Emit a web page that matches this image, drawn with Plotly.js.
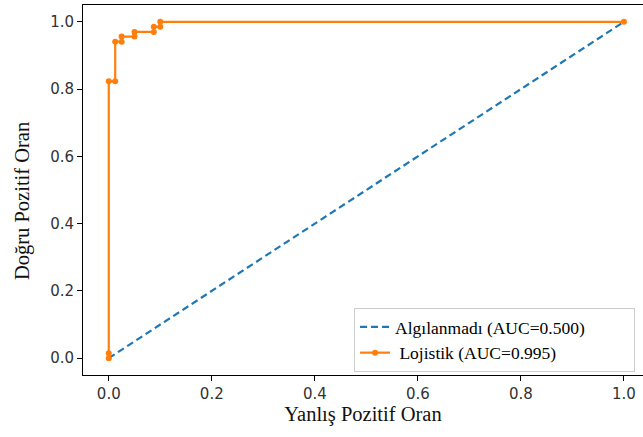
<!DOCTYPE html>
<html>
<head>
<meta charset="utf-8">
<script src="https://cdn.plot.ly/plotly-3.0.1.min.js"></script>
<style>html,body{margin:0;padding:0;background:#fff;}#chart{width:643px;height:437px;}</style>
</head>
<body>
<div id="chart"></div>
<script>
// Baseline (no-skill) ROC
const baseFpr = [0, 1];
const baseTpr = [0, 1];
const baseName = "Algılanmadı (AUC=0.500)\u00a0\u00a0\u00a0\u00a0\u00a0\u00a0\u00a0\u00a0\u00a0\u00a0";

// Logistic regression ROC
const logFpr = [0, 0, 0, 0.0125, 0.0125, 0.025, 0.025, 0.05, 0.05, 0.0875, 0.0875, 0.1, 0.1, 1];
const logTpr = [0, 0.015, 0.823, 0.823, 0.941, 0.941, 0.956, 0.956, 0.97, 0.97, 0.985, 0.985, 1, 1];
const logName = "\u00a0Lojistik (AUC=0.995)";

const xTitle = "Yanlış Pozitif Oran";
const yTitle = "Doğru Pozitif Oran";

const xTickVals = [0, 0.2, 0.4, 0.6, 0.8, 1.0];
const xTickText = ["0.0", "0.2", "0.4", "0.6", "0.8", "1.0"];
const yTickVals = [0, 0.2, 0.4, 0.6, 0.8, 1.0];
const yTickText = ["0.0", "0.2", "0.4", "0.6", "0.8", "1.0"];

const traces = [
  {
    x: baseFpr, y: baseTpr, name: baseName, type: "scatter", mode: "lines",
    line: {color: "#1f77b4", width: 2.2, dash: "7px,4px"}
  },
  {
    x: logFpr, y: logTpr, name: logName, type: "scatter", mode: "lines+markers",
    line: {color: "#ff7f0e", width: 2.2},
    marker: {color: "#ff7f0e", size: 6}
  }
];

const serif = "Liberation Serif";
const tickFont = {family: "DejaVu Sans", size: 15, color: "#333"};
const titleFont = {family: serif, size: 20.5, color: "#111"};

const layout = {
  width: 643, height: 437,
  margin: {l: 83, r: 0, t: 5, b: 62},
  paper_bgcolor: "#fff", plot_bgcolor: "#fff",
  showlegend: true,
  font: {family: serif},
  xaxis: {
    range: [-0.05, 1.037],
    tickvals: xTickVals, ticktext: xTickText,
    ticks: "outside", ticklen: 5, tickcolor: "#000", tickwidth: 1,
    showline: true, linecolor: "#000", linewidth: 1, mirror: true,
    showgrid: false, zeroline: false,
    tickfont: tickFont,
    title: {text: xTitle, font: titleFont, standoff: 4}
  },
  yaxis: {
    range: [-0.05, 1.05],
    tickvals: yTickVals, ticktext: yTickText,
    ticks: "outside", ticklen: 5, tickcolor: "#000", tickwidth: 1,
    showline: true, linecolor: "#000", linewidth: 1, mirror: false,
    showgrid: false, zeroline: false,
    tickfont: tickFont
  },
  annotations: [{
    text: yTitle, font: titleFont, textangle: -90,
    xref: "paper", yref: "paper", x: -0.109, y: 0.47,
    xanchor: "center", yanchor: "middle", showarrow: false
  }],
  legend: {
    x: 0.484, y: 0.181, xanchor: "left", yanchor: "top",
    bgcolor: "#fff", bordercolor: "#ccc", borderwidth: 1,
    font: {family: serif, size: 17.5, color: "#000"}
  }
};

Plotly.newPlot("chart", traces, layout, {displayModeBar: false, staticPlot: true});
</script>
</body>
</html>
